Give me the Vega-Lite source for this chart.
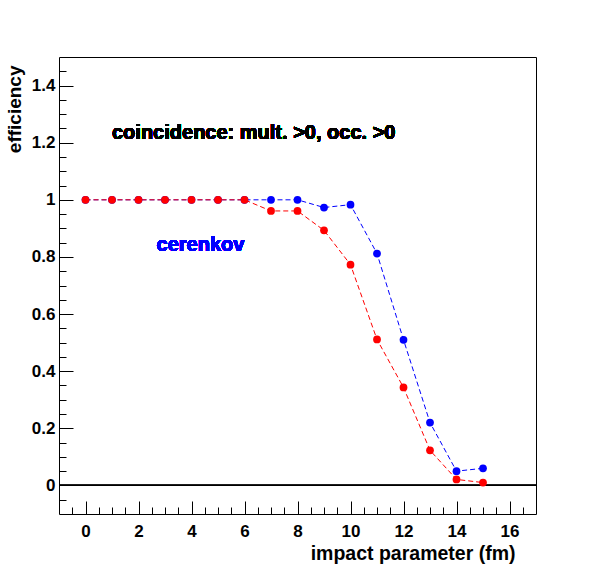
{
  "$schema": "https://vega.github.io/schema/vega-lite/v6.json",
  "autosize": "none",
  "padding": {"left": 59, "top": 57, "right": 60, "bottom": 58},
  "width": 477,
  "height": 457,
  "background": "white",
  "config": {
    "view": {"stroke": "black", "strokeWidth": 1},
    "font": "Liberation Sans"
  },
  "data": {
    "values": [
      {"b": 0, "eff": 1.0, "series": "cerenkov"},
      {"b": 1, "eff": 1.0, "series": "cerenkov"},
      {"b": 2, "eff": 1.0, "series": "cerenkov"},
      {"b": 3, "eff": 1.0, "series": "cerenkov"},
      {"b": 4, "eff": 1.0, "series": "cerenkov"},
      {"b": 5, "eff": 1.0, "series": "cerenkov"},
      {"b": 6, "eff": 1.0, "series": "cerenkov"},
      {"b": 7, "eff": 1.0, "series": "cerenkov"},
      {"b": 8, "eff": 1.0, "series": "cerenkov"},
      {"b": 9, "eff": 0.973, "series": "cerenkov"},
      {"b": 10, "eff": 0.983, "series": "cerenkov"},
      {"b": 11, "eff": 0.812, "series": "cerenkov"},
      {"b": 12, "eff": 0.51, "series": "cerenkov"},
      {"b": 13, "eff": 0.22, "series": "cerenkov"},
      {"b": 14, "eff": 0.05, "series": "cerenkov"},
      {"b": 15, "eff": 0.06, "series": "cerenkov"},
      {"b": 0, "eff": 1.0, "series": "coincidence"},
      {"b": 1, "eff": 1.0, "series": "coincidence"},
      {"b": 2, "eff": 1.0, "series": "coincidence"},
      {"b": 3, "eff": 1.0, "series": "coincidence"},
      {"b": 4, "eff": 1.0, "series": "coincidence"},
      {"b": 5, "eff": 1.0, "series": "coincidence"},
      {"b": 6, "eff": 1.0, "series": "coincidence"},
      {"b": 7, "eff": 0.961, "series": "coincidence"},
      {"b": 8, "eff": 0.961, "series": "coincidence"},
      {"b": 9, "eff": 0.893, "series": "coincidence"},
      {"b": 10, "eff": 0.773, "series": "coincidence"},
      {"b": 11, "eff": 0.511, "series": "coincidence"},
      {"b": 12, "eff": 0.343, "series": "coincidence"},
      {"b": 13, "eff": 0.123, "series": "coincidence"},
      {"b": 14, "eff": 0.021, "series": "coincidence"},
      {"b": 15, "eff": 0.01, "series": "coincidence"}
    ]
  },
  "resolve": {"axis": {"x": "independent", "y": "independent"}},
  "layer": [
    {
      "mark": {"type": "rule", "color": "black", "strokeWidth": 1},
      "encoding": {"y": {"datum": 0, "type": "quantitative", "scale": {"domain": [-0.1, 1.5], "nice": false, "zero": false}, "axis": null}}
    },
    {
      "mark": {"type": "line", "strokeWidth": 1, "strokeDash": [5, 3]},
      "encoding": {
        "x": {
          "field": "b", "type": "quantitative",
          "scale": {"domain": [-1, 17], "nice": false, "zero": false},
          "axis": {
            "orient": "bottom", "values": [0, 2, 4, 6, 8, 10, 12, 14, 16], "format": "~g",
            "domain": false, "grid": false,
            "tickSize": -13, "tickColor": "black", "tickWidth": 1,
            "labelPadding": 22, "labelFont": "Liberation Sans", "labelFontWeight": "bold", "labelFontSize": 17, "labelColor": "black",
            "title": "impact parameter (fm)", "titleFont": "Liberation Sans", "titleFontWeight": "bold", "titleFontSize": 19.5, "titleColor": "black",
            "titleAnchor": "end", "titleAlign": "right", "titleBaseline": "alphabetic", "titleX": 456, "titleY": 45
          }
        },
        "y": {
          "field": "eff", "type": "quantitative",
          "scale": {"domain": [-0.1, 1.5], "nice": false, "zero": false},
          "axis": {
            "orient": "left", "values": [0, 0.2, 0.4, 0.6, 0.8, 1, 1.2, 1.4], "format": "~g",
            "domain": false, "grid": false,
            "tickSize": -14, "tickColor": "black", "tickWidth": 1,
            "labelPadding": 18, "labelFont": "Liberation Sans", "labelFontWeight": "bold", "labelFontSize": 17, "labelColor": "black",
            "title": "efficiency", "titleFont": "Liberation Sans", "titleFontWeight": "bold", "titleFontSize": 19, "titleColor": "black",
            "titleAngle": 270, "titleAlign": "right", "titleBaseline": "alphabetic", "titleX": -39, "titleY": 8
          }
        },
        "color": {"field": "series", "type": "nominal", "scale": {"domain": ["cerenkov", "coincidence"], "range": ["#0000ff", "#ff0000"]}, "legend": null},
        "detail": {"field": "series"}
      }
    },
    {
      "mark": {"type": "circle", "size": 60, "opacity": 1},
      "encoding": {
        "x": {
          "field": "b", "type": "quantitative",
          "axis": {
            "orient": "bottom",
            "values": [-0.5, 0.5, 1, 1.5, 2.5, 3, 3.5, 4.5, 5, 5.5, 6.5, 7, 7.5, 8.5, 9, 9.5, 10.5, 11, 11.5, 12.5, 13, 13.5, 14.5, 15, 15.5, 16.5],
            "labels": false, "domain": false, "grid": false, "title": null,
            "tickSize": -7, "tickColor": "black", "tickWidth": 1
          }
        },
        "y": {
          "field": "eff", "type": "quantitative",
          "axis": {
            "orient": "left",
            "values": [-0.05, 0.05, 0.1, 0.15, 0.25, 0.3, 0.35, 0.45, 0.5, 0.55, 0.65, 0.7, 0.75, 0.85, 0.9, 0.95, 1.05, 1.1, 1.15, 1.25, 1.3, 1.35, 1.45],
            "labels": false, "domain": false, "grid": false, "title": null,
            "tickSize": -7, "tickColor": "black", "tickWidth": 1
          }
        },
        "color": {"field": "series", "type": "nominal", "legend": null}
      }
    },
    {
      "mark": {"type": "text", "text": "coincidence:  mult. >0, occ. >0", "align": "left", "baseline": "alphabetic", "font": "Liberation Sans", "fontWeight": "bold", "fontSize": 20, "color": "black"},
      "encoding": {
        "x": {"datum": 1.0, "type": "quantitative", "axis": null},
        "y": {"datum": 1.214, "type": "quantitative", "axis": null}
      }
    },
    {
      "mark": {"type": "text", "text": "cerenkov", "align": "left", "baseline": "alphabetic", "font": "Liberation Sans", "fontWeight": "bold", "fontSize": 20, "color": "#0000ff"},
      "encoding": {
        "x": {"datum": 2.68, "type": "quantitative", "axis": null},
        "y": {"datum": 0.82, "type": "quantitative", "axis": null}
      }
    }
  ]
}
